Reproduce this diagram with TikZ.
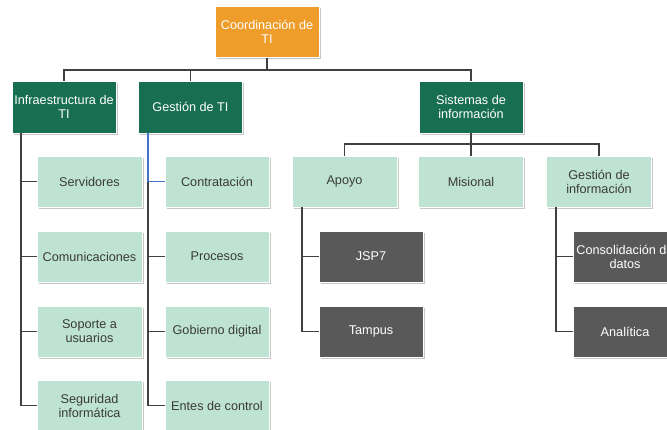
\documentclass[tikz,border=0pt]{standalone}
\usepackage{fontspec}
\setmainfont{Liberation Sans}
\usetikzlibrary{shadows}
\definecolor{leaf}{HTML}{BEE3D2}
\definecolor{branch}{HTML}{176E50}
\definecolor{rootc}{HTML}{EE9D2A}
\definecolor{sysbox}{HTML}{595959}
\definecolor{ink}{HTML}{3A3A3A}
\definecolor{wire}{HTML}{404040}
\definecolor{selwire}{HTML}{4472C4}
\tikzset{
  box/.style={rectangle, draw=white, line width=0.5pt, minimum width=104*0.75pt,
    minimum height=51*0.75pt, align=center, inner sep=1pt,
    font=\fontsize{9.5}{10.5}\selectfont,
    drop shadow={shadow xshift=1.3pt, shadow yshift=-1.3pt, fill=black, opacity=0.22}},
  rootbox/.style={box, fill=rootc, text=white},
  headbox/.style={box, fill=branch, text=white, minimum height=52*0.75pt},
  leafbox/.style={box, fill=leaf, text=ink, minimum width=105*0.75pt},
  sysleaf/.style={box, fill=sysbox, text=white},
  link/.style={draw=wire, line width=1.1pt},
  sellink/.style={draw=selwire, line width=1.1pt}
}
\begin{document}
\begin{tikzpicture}[x=0.75pt, y=-0.75pt]
\clip (0,0) rectangle (667,429);
\fill[white] (0,0) rectangle (667,429);

% connectors
\coordinate (bus1) at (267,70);
\coordinate (bus2) at (471,144);
\coordinate (infraleg) at (21,133);
\coordinate (gestleg) at (148,133);
\coordinate (apoyoleg) at (302,207);
\coordinate (ginfleg) at (556,207);

% nodes
\node[rootbox] (top) at (267,32) {Coordinación de\\TI};
\node[headbox] (infra) at (64,107) {Infraestructura de\\TI};
\node[headbox] (gest) at (190.5,107) {Gestión de TI};
\node[headbox] (sist) at (471,107) {Sistemas de\\información};

\node[leafbox] (serv) at (89.5,181.5) {Servidores};
\node[leafbox] (com) at (89.5,256.5) {Comunicaciones};
\node[leafbox] (sop) at (89.5,331.5) {Soporte a\\usuarios};
\node[leafbox] (seg) at (89.5,405.5) {Seguridad\\informática};

\node[leafbox, minimum width=104*0.75pt] (contr) at (217,181.5) {Contratación};
\node[leafbox, minimum width=104*0.75pt] (proc) at (217,256.5) {Procesos};
\node[leafbox, minimum width=104*0.75pt] (gob) at (217,331.5) {Gobierno digital};
\node[leafbox, minimum width=104*0.75pt] (entes) at (217,405.5) {Entes de control};

\node[leafbox] (apoyo) at (344.5,181.5) {Apoyo};
\node[leafbox] (mis) at (471,181.5) {Misional};
\node[leafbox] (ginf) at (599,181.5) {Gestión de\\información};

\node[sysleaf] (jsp) at (371,256.5) {JSP7};
\node[sysleaf] (tamp) at (371,331.5) {Tampus};
\node[sysleaf] (cons) at (625,256.5) {Consolidación de\\datos};
\node[sysleaf] (anal) at (625,331.5) {Analítica};

% top level bus
\draw[link] (top.south) -- (bus1);
\draw[link] (infra.north) |- (bus1) -| (sist.north);
\draw[link] (gest.north) -- (gest.north |- bus1);

% infrastructure column
\draw[link] (infraleg) |- (seg.west);
\draw[link] (infraleg) |- (serv.west);
\draw[link] (infraleg) |- (com.west);
\draw[link] (infraleg) |- (sop.west);

% management column
\draw[link] (gestleg |- contr.west) |- (entes.west);
\draw[link] (gestleg) |- (proc.west);
\draw[link] (gestleg) |- (gob.west);
\draw[sellink] (gestleg) |- (contr.west);

% information systems bus
\draw[link] (sist.south) -- (bus2);
\draw[link] (apoyo.north) |- (bus2) -| (ginf.north);
\draw[link] (bus2) -- (mis.north);

% systems leaves
\draw[link] (apoyoleg) |- (tamp.west);
\draw[link] (apoyoleg) |- (jsp.west);
\draw[link] (ginfleg) |- (anal.west);
\draw[link] (ginfleg) |- (cons.west);
\end{tikzpicture}
\end{document}
